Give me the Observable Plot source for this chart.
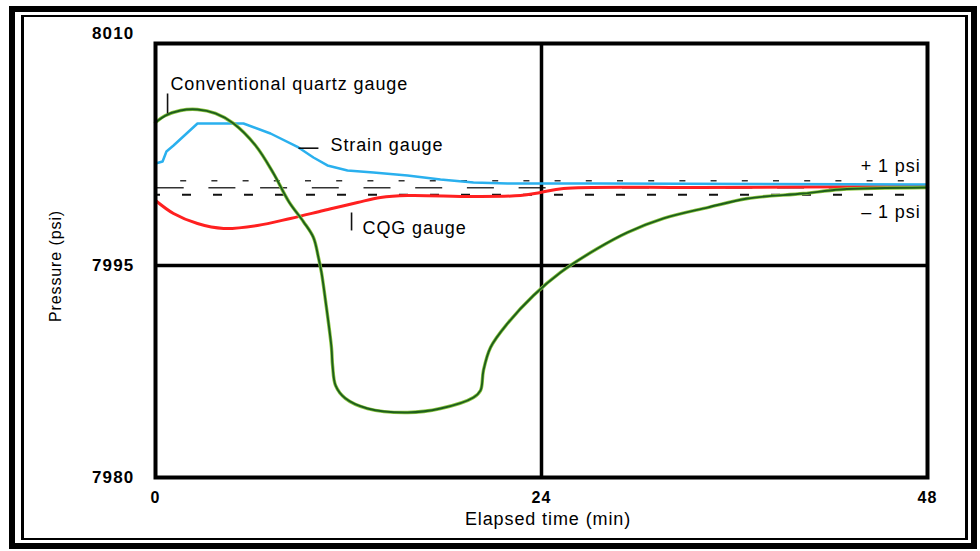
<!DOCTYPE html>
<html><head><meta charset="utf-8">
<script src="https://cdn.jsdelivr.net/npm/d3@7"></script>
<script src="https://cdn.jsdelivr.net/npm/@observablehq/plot@0.6"></script>
<style>
html,body{margin:0;padding:0;background:#fff;}
#wrap{position:relative;width:980px;height:551px;overflow:hidden;background:#fff;}
#wrap svg{position:absolute;left:0;top:0;}
.b1{position:absolute;left:9px;top:6px;width:968px;height:543px;border:6px solid #000;box-sizing:border-box;pointer-events:none;}
.b2{position:absolute;left:21px;top:15px;width:947px;height:525px;border-style:solid;border-color:#000;border-width:2px 3px 2px 3px;box-sizing:border-box;pointer-events:none;}
g[aria-label="text"] text{letter-spacing:0.9px;}
g[aria-label="text"] text[aria-label="xlabel"], g[aria-label="xlabel"] text{letter-spacing:1.5px;}
g[aria-label$="tick label"] text{letter-spacing:1.2px;}
</style>
</head><body>
<div id="wrap"><div class="b1"></div><div class="b2"></div></div>
<script>
// ---- Data ----
const xTicks = [0, 24, 48];
const yTicks = [7980, 7995, 8010];

// Conventional quartz gauge (green)
const quartzTime = [0, 0.62, 1.55, 2.61, 3.73, 4.85, 6.22, 7.34, 8.30, 9.20, 9.82, 10.13, 10.32, 10.57, 10.94, 11.01, 11.20, 11.80, 13.18, 15.67, 17.72, 19.77, 20.21, 20.39, 20.83, 21.89, 23.50, 25.18, 27.48, 29.35, 31.59, 34.32, 36.81, 40.29, 42.59, 48];
const quartzPressure = [8005.12, 8005.61, 8005.97, 8006.04, 8005.76, 8005.05, 8003.49, 8001.51, 7999.50, 7998.10, 7996.98, 7995.57, 7994.51, 7992.52, 7989.20, 7987.92, 7986.50, 7985.60, 7984.88, 7984.60, 7984.88, 7985.66, 7986.16, 7987.57, 7989.20, 7990.90, 7992.88, 7994.51, 7996.20, 7997.34, 7998.33, 7999.10, 7999.74, 8000.09, 8000.38, 8000.52];

// Strain gauge (blue)
const strainTime = [0, 0.44, 0.68, 1.12, 2.61, 5.47, 7.15, 8.89, 9.82, 10.69, 11.94, 13.55, 15.67, 17.72, 19.77, 21.89, 27.67, 48];
const strainPressure = [8002.22, 8002.36, 8003.07, 8003.49, 8005.05, 8005.05, 8004.34, 8003.35, 8002.64, 8002.08, 8001.72, 8001.58, 8001.37, 8001.09, 8000.87, 8000.80, 8000.80, 8000.73];

// CQG gauge (red)
const cqgTime = [0, 1.12, 2.61, 4.23, 6.34, 8.39, 10.45, 12.56, 13.99, 15.67, 19.77, 22.69, 23.94, 25.37, 33.89, 48];
const cqgPressure = [7999.60, 7998.68, 7997.97, 7997.62, 7997.83, 7998.33, 7998.89, 7999.46, 7999.81, 7999.95, 7999.88, 7999.95, 8000.17, 8000.45, 8000.52, 8000.59];

// Reference band (+1 psi / centre / -1 psi dashed lines)
const bandLevels = [8001.0, 8000.5, 8000.0];

// Annotations
const noteLabels = ["Conventional quartz gauge", "Strain gauge", "CQG gauge"];
const noteTime = [0.93, 10.88, 12.87];
const notePressure = [8007.84, 8003.53, 7997.62];
const bandLabels = ["+ 1 psi", "\u2013 1 psi"];
const bandLabelTime = [47.57, 47.57];
const bandLabelPressure = [8002.0, 7998.75];

// Leader ticks next to labels
const leaderT1 = [0.75, 8.89, 12.19];
const leaderT2 = [0.75, 10.13, 12.19];
const leaderP1 = [8007.17, 8003.30, 7998.75];
const leaderP2 = [8005.76, 8003.30, 7997.48];

// ---- Tables ----
const zipTP = (t, p) => t.map((v, i) => ({t: v, p: p[i]}));
const quartz = zipTP(quartzTime, quartzPressure);
const strain = zipTP(strainTime, strainPressure);
const cqg = zipTP(cqgTime, cqgPressure);
const notes = noteLabels.map((s, i) => ({s, t: noteTime[i], p: notePressure[i]}));
const bandNotes = bandLabels.map((s, i) => ({s, t: bandLabelTime[i], p: bandLabelPressure[i]}));
const leaders = leaderT1.map((v, i) => ({t1: v, t2: leaderT2[i], p1: leaderP1[i], p2: leaderP2[i]}));

const font = "'Liberation Sans', Arial, Helvetica, sans-serif";
const fmt = d3.format("d");

const chart = Plot.plot({
  width: 980, height: 551,
  marginLeft: 155, marginRight: 53, marginTop: 43, marginBottom: 74,
  insetTop: 10,
  x: {domain: [0, 48]},
  y: {domain: [7980, 8010]},
  style: {fontFamily: font, background: "white", color: "#000", overflow: "visible"},
  marks: [
    Plot.ruleY([bandLevels[0]], {stroke: "#333", strokeWidth: 1.6, strokeDasharray: "6,25.2", strokeDashoffset: 6}),
    Plot.ruleY([bandLevels[1]], {stroke: "#333", strokeWidth: 1.6, strokeDasharray: "27,24.7", strokeDashoffset: 50}),
    Plot.ruleY([bandLevels[2]], {stroke: "#111", strokeWidth: 2, strokeDasharray: "9,22", strokeDashoffset: 4}),
    Plot.ruleX([24], {stroke: "#000", strokeWidth: 3.5}),
    Plot.ruleY([7995], {stroke: "#000", strokeWidth: 3.5}),
    Plot.line(cqg, {x: "t", y: "p", stroke: "#ff2020", strokeWidth: 3, curve: "catmull-rom"}),
    Plot.line(strain, {x: "t", y: "p", stroke: "#2ab0ee", strokeWidth: 2.5, curve: "linear"}),
    Plot.line(quartz, {x: "t", y: "p", stroke: "#8cc63f", strokeWidth: 3.4, curve: "catmull-rom"}),
    Plot.line(quartz, {x: "t", y: "p", stroke: "#1d5e1d", strokeWidth: 1.9, curve: "catmull-rom"}),
    Plot.link(leaders, {x1: "t1", y1: "p1", x2: "t2", y2: "p2", stroke: "#111", strokeWidth: 1.6}),
    Plot.frame({stroke: "#000", strokeWidth: 4}),
    Plot.axisX(xTicks, {tickSize: 0, tickPadding: 14, fontSize: 16, fontWeight: "bold", tickFormat: fmt, label: null}),
    Plot.axisY(yTicks.slice(0, 2), {tickSize: 0, tickPadding: 21, fontSize: 17, fontWeight: "bold", tickFormat: fmt, label: null}),
    Plot.axisY(yTicks.slice(2), {tickSize: 0, tickPadding: 21, fontSize: 17, fontWeight: "bold", tickFormat: fmt, label: null, dy: -20}),
    Plot.text(notes, {x: "t", y: "p", text: "s", textAnchor: "start", fontSize: 18, fill: "#000"}),
    Plot.text(bandNotes, {x: "t", y: "p", text: "s", textAnchor: "end", fontSize: 18, fill: "#000"}),
    Plot.text(["Elapsed time (min)"], {ariaLabel: "xlabel", frameAnchor: "bottom", lineAnchor: "middle", textAnchor: "middle", text: d => d, fontSize: 18, dy: 42, dx: 6.5, fill: "#000"}),
    Plot.text(["Pressure (psi)"], {frameAnchor: "left", lineAnchor: "middle", textAnchor: "middle", text: d => d, fontSize: 16, rotate: -90, dx: -99.5, dy: 5.5, fill: "#000"})
  ]
});
document.getElementById("wrap").insertBefore(chart, document.getElementById("wrap").firstChild);
</script>
</body></html>
